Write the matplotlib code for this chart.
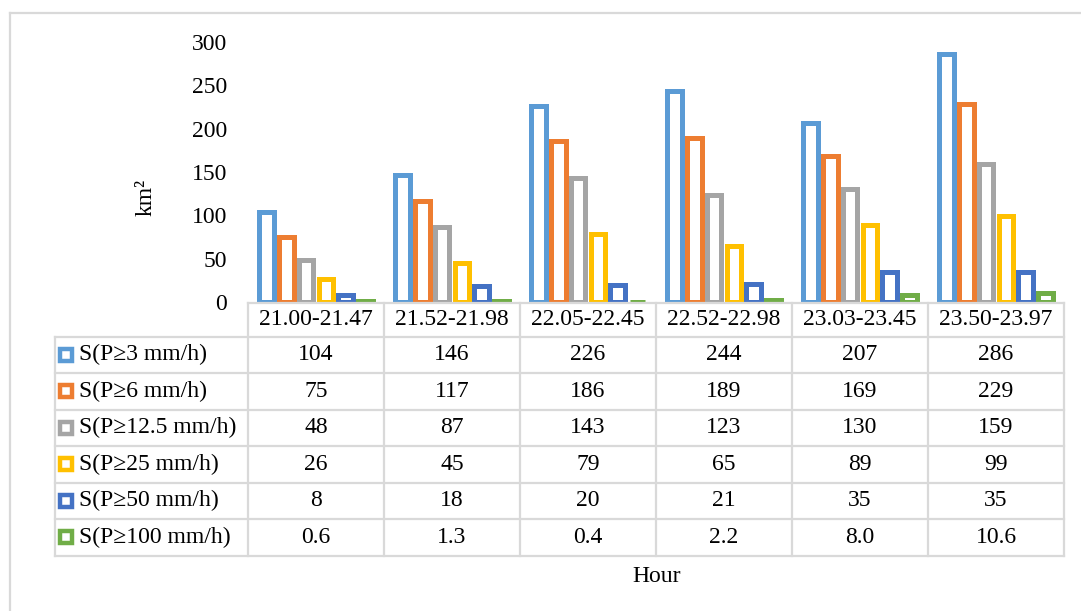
import matplotlib
matplotlib.use("Agg")
import matplotlib.pyplot as plt
from matplotlib.lines import Line2D

plt.rcParams['font.family'] = ['Liberation Serif', 'DejaVu Serif']

# ---- data ----
periods = ["21.00-21.47", "21.52-21.98", "22.05-22.45",
           "22.52-22.98", "23.03-23.45", "23.50-23.97"]
series_names = ["S(P≥3 mm/h)", "S(P≥6 mm/h)", "S(P≥12.5 mm/h)",
                "S(P≥25 mm/h)", "S(P≥50 mm/h)", "S(P≥100 mm/h)"]
area_p3 = [104, 146, 226, 244, 207, 286]
area_p6 = [75, 117, 186, 189, 169, 229]
area_p12_5 = [48, 87, 143, 123, 130, 159]
area_p25 = [26, 45, 79, 65, 89, 99]
area_p50 = [8, 18, 20, 21, 35, 35]
area_p100 = [0.6, 1.3, 0.4, 2.2, 8.0, 10.6]
decimals = [0, 0, 0, 0, 0, 1]
yticks = [0, 50, 100, 150, 200, 250, 300]

series = [area_p3, area_p6, area_p12_5, area_p25, area_p50, area_p100]
colors = ["#5B9BD5", "#ED7D31", "#A5A5A5", "#FFC000", "#4472C4", "#70AD47"]

W, H = 1081, 611
fig = plt.figure(figsize=(W / 100, H / 100), dpi=100)


def fx(x):
    return x / W


def fy(y):
    return 1 - y / H


FS = 17
GRID = "#d9d9d9"

# plot area
x0, x1 = 248, 1064
y_top, y_zero = 42, 302
ax = fig.add_axes([fx(x0), fy(y_zero), fx(x1) - fx(x0), fy(y_top) - fy(y_zero)])

step = 0.145
for i, (vals, col) in enumerate(zip(series, colors)):
    xs = [k + (i - 2.5) * step for k in range(len(periods))]
    ax.bar(xs, vals, width=step - 0.037, facecolor="white", edgecolor=col,
           linewidth=3.6, joinstyle="miter", zorder=2)

ax.set_xlim(-0.5, len(periods) - 0.5)
ax.set_ylim(0, 300)
ax.set_yticks(yticks)
ax.set_yticklabels([str(t) for t in yticks], fontsize=FS)
ax.tick_params(axis="y", length=0, pad=15)
ax.set_xticks([])
for s in ax.spines.values():
    s.set_visible(False)
ax.patch.set_alpha(0)

fig.text(fx(146), fy(197), "km²", rotation=90, ha="center", va="center", fontsize=FS)
fig.text(fx(657), fy(576), "Hour", ha="center", va="center", fontsize=FS)

# ---- data table ----
col_w = (x1 - x0) / len(periods)
col_edges = [x0 + k * col_w for k in range(len(periods) + 1)]
head_top = 303
row_top = 336.7
row_h = 36.5
row_edges = [row_top + r * row_h for r in range(len(series) + 1)]
leg_left = 55


def hline(xa, xb, y):
    fig.add_artist(Line2D([fx(xa), fx(xb)], [fy(y), fy(y)], color=GRID, lw=1.6,
                          transform=fig.transFigure, zorder=1))


def vline(x, ya, yb):
    fig.add_artist(Line2D([fx(x), fx(x)], [fy(ya), fy(yb)], color=GRID, lw=1.6,
                          transform=fig.transFigure, zorder=1))


hline(x0, x1, head_top)
for y in row_edges:
    hline(leg_left, x1, y)
for x in col_edges:
    vline(x, head_top, row_edges[-1])
vline(leg_left, row_edges[0], row_edges[-1])

# header cells
for k, p in enumerate(periods):
    cx = (col_edges[k] + col_edges[k + 1]) / 2
    fig.text(fx(cx), fy((head_top + row_edges[0]) / 2), p,
             ha="center", va="center", fontsize=FS)

# rows: legend key, name, values
for r, (name, vals, col, dec) in enumerate(zip(series_names, series, colors, decimals)):
    cy = (row_edges[r] + row_edges[r + 1]) / 2
    fig.add_artist(Line2D([fx(66)], [fy(cy)], marker="s", markersize=8.5,
                          markerfacecolor="white", markeredgecolor=col, mew=3.2,
                          transform=fig.transFigure, zorder=3))
    fig.text(fx(79), fy(cy), name, ha="left", va="center", fontsize=FS)
    for k, v in enumerate(vals):
        cx = (col_edges[k] + col_edges[k + 1]) / 2
        fig.text(fx(cx), fy(cy), f"{v:.{dec}f}", ha="center", va="center", fontsize=FS)

# chart area border
fig.add_artist(Line2D([fx(10), fx(10)], [fy(H + 5), fy(13)], color=GRID, lw=1.6,
                      transform=fig.transFigure))
fig.add_artist(Line2D([fx(10), fx(W + 5)], [fy(13), fy(13)], color=GRID, lw=1.6,
                      transform=fig.transFigure))

fig.savefig("out.png", dpi=100)
